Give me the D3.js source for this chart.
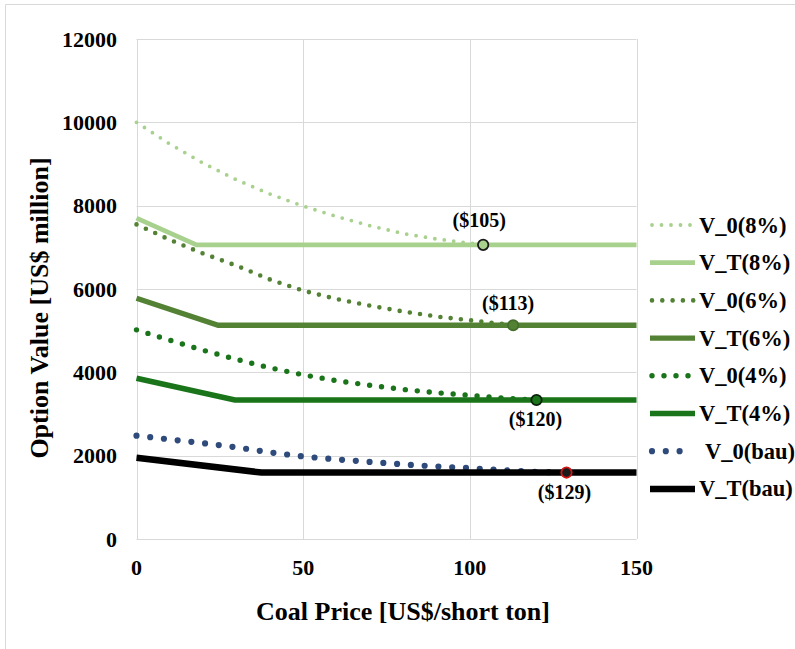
<!DOCTYPE html>
<html lang="en">
<head>
  <meta charset="UTF-8">
  <title>Option Value vs Coal Price</title>
  <script src="https://d3js.org/d3.v7.min.js"></script>
  <style>
    body { margin: 0; background: #fff; }
    svg { display: block; font-family: "Liberation Serif", "Times New Roman", serif; font-weight: bold; }
    .grid line { stroke: #d9d9d9; stroke-width: 1; }
    .tick-label { font-size: 22px; fill: #000; }
    .axis-title { font-size: 26px; fill: #000; }
    .legend-text { font-size: 22.5px; fill: #000; }
    .price-label { font-size: 20px; fill: #000; }
  </style>
</head>
<body>
  <svg width="795" height="649"></svg>
  <script>
    const svg = d3.select("svg");

    // coal price (x) and option value (y)
    const xTicks = [0, 50, 100, 150];
    const yTicks = [0, 2000, 4000, 6000, 8000, 10000, 12000];

    const v0_8 = [[0, 10000], [10, 9480], [20, 9020], [30, 8620], [40, 8280], [50, 7990], [60, 7740],
                  [70, 7520], [80, 7330], [90, 7200], [100, 7100], [104, 7060]];
    const vT_8 = [[0, 7700], [18, 7060], [150, 7060]];
    const v0_6 = [[0, 7550], [10, 7180], [20, 6850], [30, 6560], [40, 6230], [50, 5960], [60, 5760],
                  [70, 5600], [80, 5460], [90, 5340], [100, 5250], [110, 5160], [113, 5130]];
    const vT_6 = [[0, 5780], [24.5, 5130], [150, 5130]];
    const v0_4 = [[0, 5020], [10, 4770], [20, 4530], [30, 4310], [40, 4110], [50, 3940], [60, 3800],
                  [70, 3690], [80, 3590], [90, 3510], [100, 3450], [110, 3380], [120, 3336]];
    const vT_4 = [[0, 3860], [29.5, 3336], [150, 3336]];
    const v0_bau = [[0, 2480], [10, 2390], [20, 2300], [30, 2200], [40, 2080], [50, 1980], [60, 1910],
                    [70, 1850], [80, 1790], [90, 1740], [100, 1700], [110, 1650], [120, 1610], [129, 1595]];
    const vT_bau = [[0, 1950], [37.5, 1595], [150, 1595]];

    const seriesNames = ["V_0(8%)", "V_T(8%)", "V_0(6%)", "V_T(6%)", "V_0(4%)", "V_T(4%)", "V_0(bau)", "V_T(bau)"];
    const seriesData = [v0_8, vT_8, v0_6, vT_6, v0_4, vT_4, v0_bau, vT_bau];

    // trigger prices where V_0 meets V_T (marker positions as drawn)
    const triggerPrices = [104, 113, 120, 129];
    const triggerValues = [7060, 5130, 3336, 1595];
    const triggerLabels = ["($105)", "($113)", "($120)", "($129)"];

    // styles
    const lineStyle = {
      "V_0(8%)":  { color: "#a9d18e", width: 3.8, dash: 9.5 },
      "V_T(8%)":  { color: "#a9d18e", width: 4.7 },
      "V_0(6%)":  { color: "#548235", width: 4.6, dash: 10.3 },
      "V_T(6%)":  { color: "#548235", width: 5.3 },
      "V_0(4%)":  { color: "#1a741a", width: 5.4, dash: 12 },
      "V_T(4%)":  { color: "#1a741a", width: 5.7 },
      "V_0(bau)": { color: "#2f4b7c", width: 6.2, dash: 13.8 },
      "V_T(bau)": { color: "#000000", width: 6.5 }
    };
    const markerStyle = [
      { fill: "#a9d18e", stroke: "#1a1a1a", dx: -4, dy: -17.5 },
      { fill: "#548235", stroke: "#456e2b", dx: -5, dy: -15 },
      { fill: "#1a741a", stroke: "#0b1f0b", dx: -1, dy: 26 },
      { fill: "#1a1a1a", stroke: "#d01818", dx: -2, dy: 26 }
    ];

    const plot = { left: 136.5, right: 636.5, top: 39, bottom: 539 };
    const x = d3.scaleLinear().domain([0, 150]).range([plot.left, plot.right]);
    const y = d3.scaleLinear().domain([0, 12000]).range([plot.bottom, plot.top]);

    // outer frame
    svg.append("path")
      .attr("d", "M5.5,649 V4.5 H795")
      .attr("fill", "none")
      .attr("stroke", "#d9d9d9");

    // gridlines
    const grid = svg.append("g").attr("class", "grid");
    grid.selectAll(".hg").data(yTicks).enter().append("line")
      .attr("x1", plot.left).attr("x2", plot.right)
      .attr("y1", d => Math.round(y(d)) + 0.5).attr("y2", d => Math.round(y(d)) + 0.5);
    grid.selectAll(".vg").data(xTicks).enter().append("line")
      .attr("x1", d => Math.round(x(d)) + 0.5).attr("x2", d => Math.round(x(d)) + 0.5)
      .attr("y1", plot.top).attr("y2", plot.bottom);

    // tick labels
    svg.selectAll(".ytl").data(yTicks).enter().append("text")
      .attr("class", "tick-label")
      .attr("x", 117)
      .attr("y", d => y(d) + 7.5)
      .attr("text-anchor", "end")
      .text(d => d);
    svg.selectAll(".xtl").data(xTicks).enter().append("text")
      .attr("class", "tick-label")
      .attr("x", d => x(d))
      .attr("y", 575)
      .attr("text-anchor", "middle")
      .text(d => d);

    // axis titles
    svg.append("text")
      .attr("class", "axis-title")
      .attr("x", 403).attr("y", 620)
      .attr("text-anchor", "middle")
      .text("Coal Price [US$/short ton]");
    svg.append("text")
      .attr("class", "axis-title")
      .attr("transform", "translate(48,308) rotate(-90)")
      .attr("text-anchor", "middle")
      .text("Option Value [US$ million]");

    // series lines
    const line = d3.line().x(d => x(d[0])).y(d => y(d[1]));
    seriesNames.forEach((name, i) => {
      const s = lineStyle[name];
      const path = svg.append("path")
        .datum(seriesData[i])
        .attr("d", line)
        .attr("fill", "none")
        .attr("stroke", s.color)
        .attr("stroke-width", s.width);
      if (s.dash) {
        path.attr("stroke-dasharray", "0 " + s.dash).attr("stroke-linecap", "round");
      }
    });

    // trigger markers + labels
    triggerPrices.forEach((p, i) => {
      const m = markerStyle[i];
      svg.append("circle")
        .attr("cx", x(p)).attr("cy", y(triggerValues[i]))
        .attr("r", 5.2)
        .attr("fill", m.fill)
        .attr("stroke", m.stroke)
        .attr("stroke-width", 1.8);
      svg.append("text")
        .attr("class", "price-label")
        .attr("x", x(p) + m.dx)
        .attr("y", y(triggerValues[i]) + m.dy)
        .attr("text-anchor", "middle")
        .text(triggerLabels[i]);
    });

    // legend
    const legend = svg.append("g").attr("transform", "translate(650,225)");
    seriesNames.forEach((name, i) => {
      const s = lineStyle[name];
      const g = legend.append("g").attr("transform", `translate(0,${i * 37.7})`);
      const ln = g.append("line")
        .attr("x1", s.dash ? 2 : 0).attr("x2", name === "V_0(bau)" ? 34 : 45)
        .attr("y1", 0).attr("y2", 0)
        .attr("stroke", s.color)
        .attr("stroke-width", s.width);
      if (s.dash) ln.attr("stroke-dasharray", "0 " + s.dash).attr("stroke-linecap", "round");
      g.append("text")
        .attr("class", "legend-text")
        .attr("x", name === "V_0(bau)" ? 55 : 49)
        .attr("y", 7.5)
        .text(name);
    });
  </script>
</body>
</html>
